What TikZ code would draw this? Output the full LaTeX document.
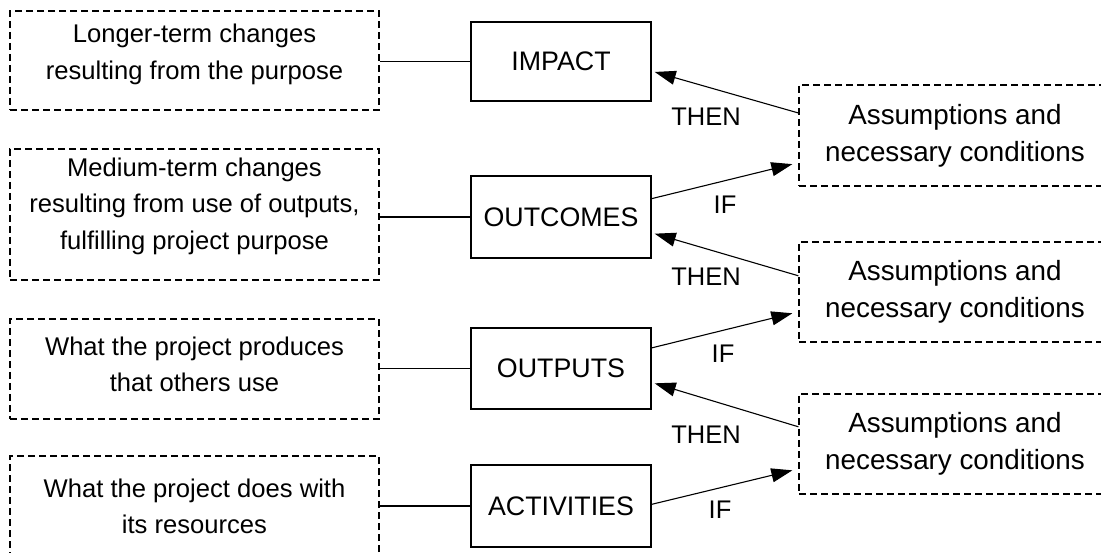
\documentclass[tikz,border=0pt]{standalone}
\usepackage{fontspec}
\setmainfont{Liberation Sans}
\usetikzlibrary{arrows.meta,calc}
\begin{document}
\begin{tikzpicture}[x=1pt,y=-1pt,
  line width=1.1pt,
  dbox/.style={draw, line width=1.3pt, dash pattern=on 7pt off 4pt, inner sep=0pt},
  ltxt/.style={align=center, inner sep=0pt, font=\fontsize{25.6}{36.5}\selectfont},
  rtxt/.style={align=center, inner sep=0pt, font=\fontsize{27.8}{37}\selectfont},
  sbox/.style={draw, line width=1.4pt, minimum width=180pt, inner sep=0pt, font=\fontsize{26.8}{30}\selectfont},
  lab/.style={font=\fontsize{25.5}{30}\selectfont, inner sep=0pt},
  arr/.style={-{Triangle[length=21pt,width=14pt]}},
  conn/.style={line width=1.1pt}
]
\path[use as bounding box, fill=white] (0,0) rectangle (1101,553);

% left descriptive boxes
\node[dbox, minimum width=369pt, minimum height=99pt] (l1) at (194.5,60.5) {};
\node[ltxt] (l1t) at ($(l1.center)+(0,-6)$) {Longer-term changes\\resulting from the purpose};
\node[dbox, minimum width=369pt, minimum height=131pt] (l2) at (194.5,214.5) {};
\node[ltxt] (l2t) at ($(l2.center)+(0,-8.5)$) {Medium-term changes\\resulting from use of outputs,\\fulfilling project purpose};
\node[dbox, minimum width=369pt, minimum height=100pt] (l3) at (194.5,369) {};
\node[ltxt] (l3t) at ($(l3.center)+(0,-4.5)$) {What the project produces\\that others use};
\node[dbox, minimum width=369pt, minimum height=101pt] (l4) at (194.5,506.5) {};
\node[ltxt] (l4t) at ($(l4.center)+(0,0)$) {What the project does with\\its resources};

% central boxes
\node[sbox, minimum height=79pt] (im) at (561,61.5) {IMPACT};
\node[sbox, minimum height=82pt] (oc) at (561,217) {OUTCOMES};
\node[sbox, minimum height=81pt] (op) at (561,368.5) {OUTPUTS};
\node[sbox, minimum height=82pt] (ac) at (561,506) {ACTIVITIES};

% right assumption boxes
\node[dbox, minimum width=312pt, minimum height=101pt] (r1) at (955,135.5) {};
\node[rtxt] (r1t) at (r1.center) {Assumptions and\\necessary conditions};
\node[dbox, minimum width=312pt, minimum height=100pt] (r2) at (955,292) {};
\node[rtxt] (r2t) at (r2.center) {Assumptions and\\necessary conditions};
\node[dbox, minimum width=312pt, minimum height=100pt] (r3) at (955,444) {};
\node[rtxt] (r3t) at (r3.center) {Assumptions and\\necessary conditions};

% horizontal connectors
\draw[conn] (im.west -| l1.east) -- (im.west);
\draw[conn] (oc.west -| l2.east) -- (oc.west);
\draw[conn] (op.west -| l3.east) -- (op.west);
\draw[conn] (ac.west -| l4.east) -- (ac.west);

% THEN arrows
\coordinate (t1) at ($(im.north east)!0.63!(im.south east)+(3,0)$);
\coordinate (t2) at ($(oc.north east)!0.70!(oc.south east)+(3,0)$);
\coordinate (t3) at ($(op.north east)!0.68!(op.south east)+(3,0)$);
\draw[arr] ($(r1.north west)!0.28!(r1.south west)$) -- (t1);
\draw[arr] ($(r2.north west)!0.34!(r2.south west)$) -- (t2);
\draw[arr] ($(r3.north west)!0.33!(r3.south west)$) -- (t3);

% IF arrows
\coordinate (i1) at ($(r1.north west)!0.78!(r1.south west)+(-6,0)$);
\coordinate (i2) at ($(r2.north west)!0.71!(r2.south west)+(-6,0)$);
\coordinate (i3) at ($(r3.north west)!0.76!(r3.south west)+(-6,0)$);
\draw[arr] ($(oc.north east)!0.28!(oc.south east)$) -- (i1);
\draw[arr] ($(op.north east)!0.25!(op.south east)$) -- (i2);
\draw[arr] ($(ac.north east)!0.48!(ac.south east)$) -- (i3);

% labels
\node[lab] (th1) at (706,117) {THEN};
\node[lab] (th2) at (706,277) {THEN};
\node[lab] (th3) at (706,435) {THEN};
\node[lab] (if1) at (725,205) {IF};
\node[lab] (if2) at (723,354) {IF};
\node[lab] (if3) at (720,510) {IF};
\end{tikzpicture}
\end{document}
